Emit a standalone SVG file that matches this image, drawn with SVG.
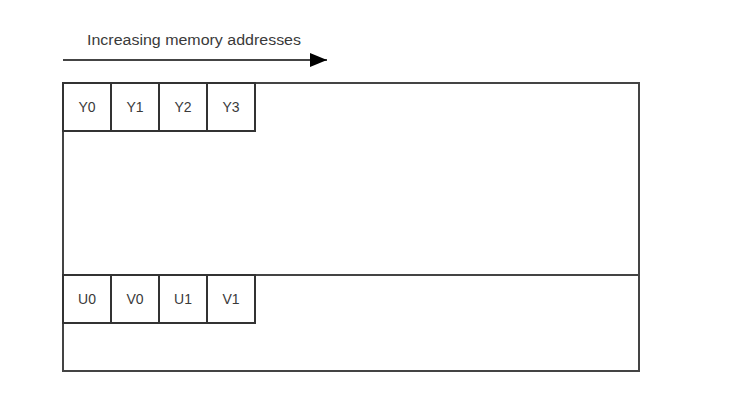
<svg xmlns="http://www.w3.org/2000/svg" width="732" height="410" viewBox="0 0 732 410">
<style>
.box{fill:#fff;stroke:#444;stroke-width:2}
.cell{fill:#fff;stroke:#333;stroke-width:2}
.lbl{font-family:"Liberation Sans",Arial,sans-serif;font-size:14px;fill:#3a3a3a;text-anchor:middle}
.title{font-family:"Liberation Sans",Arial,sans-serif;font-size:14px;fill:#3a3a3a}
.conn{stroke:#444;stroke-width:2;fill:none}
</style>
<defs>
<marker id="ah" markerUnits="userSpaceOnUse" markerWidth="18" markerHeight="14" refX="17" refY="7" orient="auto">
<path d="M0,0 L17,7 L0,14 Z" fill="#000"/>
</marker>
</defs>
<rect width="732" height="410" fill="#fff"/>
<g id="buffer">
<rect class="box" x="63" y="83" width="576" height="288"/>
<line class="box" x1="63" y1="275" x2="639" y2="275"/>
</g>
<g id="y0"><rect class="cell" x="63" y="83" width="48" height="48"/><text class="lbl" x="87" y="112">Y0</text></g>
<g id="y1"><rect class="cell" x="111" y="83" width="48" height="48"/><text class="lbl" x="135" y="112">Y1</text></g>
<g id="y2"><rect class="cell" x="159" y="83" width="48" height="48"/><text class="lbl" x="183" y="112">Y2</text></g>
<g id="y3"><rect class="cell" x="207" y="83" width="48" height="48"/><text class="lbl" x="231" y="112">Y3</text></g>
<g id="u0"><rect class="cell" x="63" y="275" width="48" height="48"/><text class="lbl" x="87" y="304">U0</text></g>
<g id="v0"><rect class="cell" x="111" y="275" width="48" height="48"/><text class="lbl" x="135" y="304">V0</text></g>
<g id="u1"><rect class="cell" x="159" y="275" width="48" height="48"/><text class="lbl" x="183" y="304">U1</text></g>
<g id="v1"><rect class="cell" x="207" y="275" width="48" height="48"/><text class="lbl" x="231" y="304">V1</text></g>
<g id="connectors">
<line class="conn" x1="63" y1="60" x2="327" y2="60" marker-end="url(#ah)"/>
</g>
<g id="label"><text class="title" x="87" y="44.5" textLength="214" lengthAdjust="spacingAndGlyphs">Increasing memory addresses</text></g>
</svg>
